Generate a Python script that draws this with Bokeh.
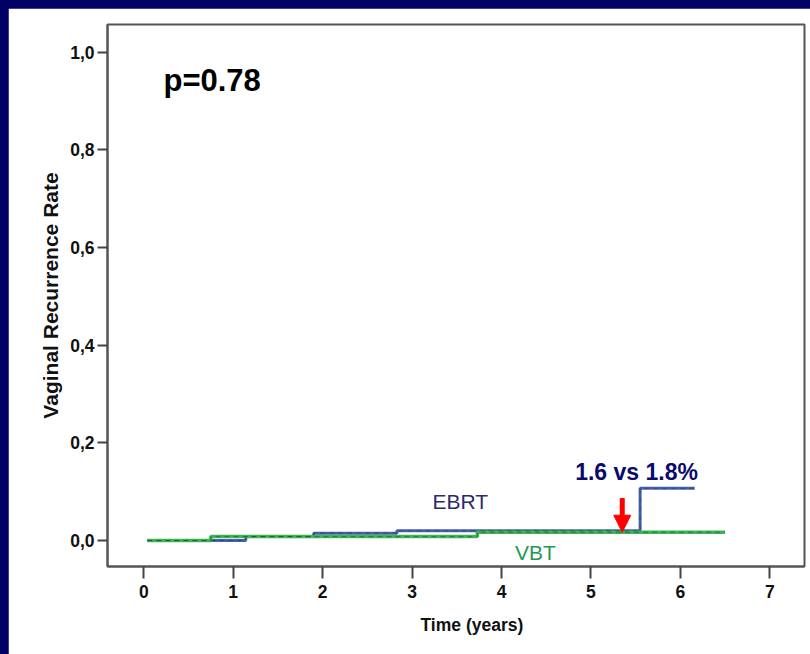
import math
from bokeh.plotting import figure
from bokeh.models import Range1d, FixedTicker, CustomJSTickFormatter, Label, Arrow, NormalHead, Title
from bokeh.embed import file_html
from bokeh.resources import INLINE

# ---- data ----
x_ticks = [0, 1, 2, 3, 4, 5, 6, 7]
y_ticks = [0.0, 0.2, 0.4, 0.6, 0.8, 1.0]

ebrt_time = [0.04, 1.14, 1.90, 2.83, 5.55, 6.16]
ebrt_rate = [0.0, 0.008, 0.015, 0.020, 0.107, 0.107]

vbt_time = [0.04, 0.75, 3.73, 6.50]
vbt_rate = [0.0, 0.008, 0.017, 0.017]

arrow_time = 5.35
arrow_from = 0.087
arrow_to = 0.017

p_text = "p=0.78"
diff_text = "1.6 vs 1.8%"
ebrt_name = "EBRT"
vbt_name = "VBT"
x_title = "Time (years)"
y_title = "Vaginal Recurrence Rate"

FONT = "Liberation Sans"

p = figure(width=802, height=646,
           x_range=Range1d(-0.406, 7.388), y_range=Range1d(-0.0532, 1.0567),
           output_backend="svg", toolbar_location=None,
           min_border_left=99, min_border_right=6, min_border_top=16, min_border_bottom=88,
           background_fill_color="white", border_fill_color="white")

p.outline_line_color = "#555555"
p.outline_line_width = 2
p.grid.grid_line_color = None

for ax in (p.xaxis[0], p.yaxis[0]):
    ax.axis_line_color = "#555555"
    ax.axis_line_width = 2
    ax.major_tick_line_color = "#444444"
    ax.major_tick_line_width = 2
    ax.major_tick_in = 0
    ax.minor_tick_line_color = None
    ax.major_label_text_font = FONT
    ax.major_label_text_font_style = "bold"
    ax.major_label_text_font_size = "17.5px"
    ax.major_label_text_color = "#111111"

p.xaxis.ticker = FixedTicker(ticks=x_ticks)
p.yaxis.ticker = FixedTicker(ticks=y_ticks)
p.yaxis.formatter = CustomJSTickFormatter(code="return tick.toFixed(1).replace('.', ',');")
p.xaxis.major_tick_out = 12
p.xaxis.major_label_standoff = 6
p.yaxis.major_tick_out = 10
p.yaxis.major_label_standoff = 3

p.yaxis.axis_label = y_title
p.yaxis.axis_label_text_font = FONT
p.yaxis.axis_label_text_font_style = "bold"
p.yaxis.axis_label_text_font_size = "21px"
p.yaxis.axis_label_text_color = "#111111"
p.yaxis.axis_label_standoff = 5

# x-axis title as a Title below the axis (shifted right as in the reference)
p.add_layout(Title(text=x_title, align="left", offset=313, standoff=25,
                   text_font=FONT, text_font_style="bold", text_font_size="17.5px",
                   text_color="#111111"), "below")

# curves
p.step(ebrt_time, ebrt_rate, mode="after", line_color="#4561ad", line_width=3)
p.step(vbt_time, vbt_rate, mode="after", line_color="#3db556", line_width=3.5)
p.step(vbt_time, vbt_rate, mode="after", line_color="#1a2a1a", line_width=1,
       line_alpha=0.45, line_dash="5 4")
p.step(ebrt_time, ebrt_rate, mode="after", line_color="#1a1a3a", line_width=1,
       line_alpha=0.35, line_dash="5 4")

# red arrow
p.add_layout(Arrow(x_start=arrow_time, y_start=arrow_from, x_end=arrow_time, y_end=arrow_to,
                   line_color="#ff0000", line_width=5,
                   end=NormalHead(size=17, fill_color="#ff0000", line_color="#ff0000", line_width=1)))

# annotations
p.add_layout(Label(x=0.22, y=0.942, text=p_text, text_font=FONT, text_font_style="bold",
                   text_font_size="31px", text_color="#000000",
                   text_align="left", text_baseline="middle"))
p.add_layout(Label(x=5.51, y=0.141, text=diff_text, text_font=FONT, text_font_style="bold",
                   text_font_size="23px", text_color="#0a0a6e",
                   text_align="center", text_baseline="middle"))
p.add_layout(Label(x=3.54, y=0.080, text=ebrt_name, text_font=FONT,
                   text_font_size="21px", text_color="#2b2b6b",
                   text_align="center", text_baseline="middle"))
p.add_layout(Label(x=4.38, y=-0.0246, text=vbt_name, text_font=FONT,
                   text_font_size="21px", text_color="#1f9a4f",
                   text_align="center", text_baseline="middle"))

page_style = """{% block postamble %}<style>
html, body { background-color: #000066; overflow: hidden; margin: 0; }
body { padding: 8px 0 0 8px; box-sizing: border-box; }
</style>{% endblock %}"""

open("out.html", "w").write(file_html(p, INLINE, template=page_style))
